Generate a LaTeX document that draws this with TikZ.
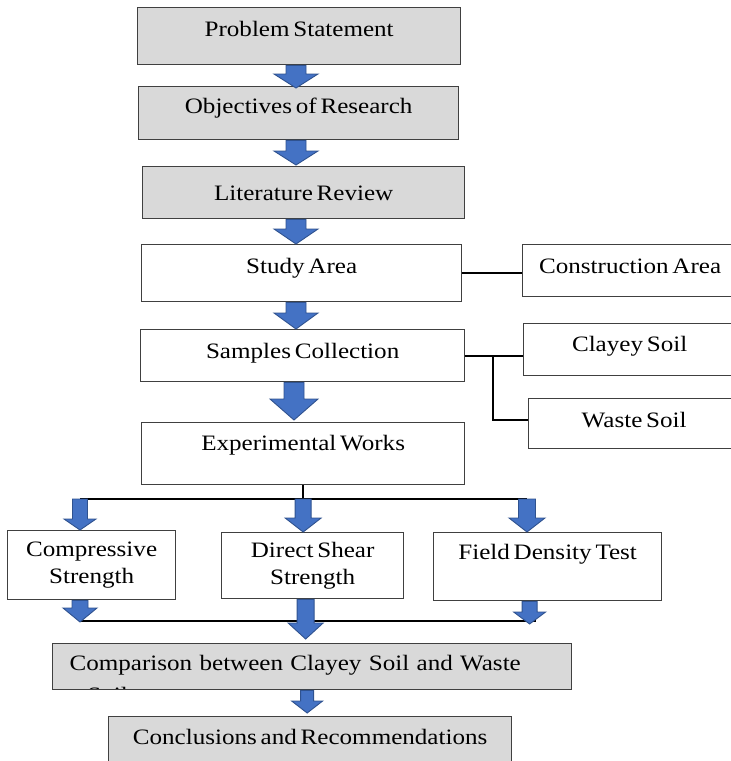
\documentclass[tikz,border=0pt]{standalone}
\usepackage{fontspec}
\setmainfont{Liberation Serif}[FakeStretch=1.14, WordSpace=0.6]
\usetikzlibrary{calc}

\definecolor{boxgray}{HTML}{D9D9D9}
\definecolor{boxline}{HTML}{404040}
\definecolor{flowfill}{HTML}{4472C4}
\definecolor{flowline}{HTML}{2F528F}

\tikzset{
  box/.style={draw=boxline, line width=1.3pt, inner sep=0pt, anchor=north west},
  shaded/.style={box, fill=boxgray},
  conn/.style={draw=black, line width=2pt},
  flow/.style={fill=flowfill, draw=flowline, line width=0.9pt, line join=miter}
}

% block arrow: start, end, shaft half width, head half width, head length
\newcommand{\flowarrow}[5]{%
  \filldraw[flow] let \p1=#1, \p2=#2 in
    (\x1-#3pt,\y1) -- (\x1-#3pt,\y2+#5pt) -- (\x1-#4pt,\y2+#5pt) -- (\x1,\y2)
    -- (\x1+#4pt,\y2+#5pt) -- (\x1+#3pt,\y2+#5pt) -- (\x1+#3pt,\y1) -- cycle;}

\begin{document}
\begin{tikzpicture}[x=1pt, y=-1pt, font=\fontsize{22pt}{27pt}\selectfont]
    \useasboundingbox (0,0) rectangle (731,761);

    % main column
    \node[shaded, minimum width=323pt, text height=29pt, text depth=28pt] (problem) at (137,7) {Problem Statement};
    \node[shaded, minimum width=320pt, text height=27pt, text depth=26pt] (objectives) at (138,86) {Objectives of Research};
    \node[shaded, minimum width=322pt, text height=34pt, text depth=18pt] (literature) at (142,166) {Literature Review};
    \node[box, minimum width=320pt, text height=29pt, text depth=28pt] (study) at (141,244) {Study Area};
    \node[box, minimum width=324pt, text height=29pt, text depth=23pt] (samples) at (140,329) {Samples Collection};
    \node[box, minimum width=323pt, text height=28pt, text depth=34pt] (exper) at (141,422) {Experimental Works};

    % side boxes
    \node[box, minimum width=215pt, text height=29pt, text depth=23pt] (construction) at (522,244) {Construction Area};
    \node[box, minimum width=212pt, text height=28pt, text depth=24pt] (clayey) at (523,323) {Clayey Soil};
    \node[box, minimum width=211pt, text height=29pt, text depth=21pt] (waste) at (528,398) {Waste Soil};

    % tests
    \node[box, minimum width=168pt, minimum height=69pt, align=center] (compress) at (7,530) {Compressive\\Strength};
    \node[box, minimum width=182pt, minimum height=66pt, align=center] (shear) at (221,532) {Direct Shear\\Strength};
    \node[box, minimum width=228pt, text height=27pt, text depth=41pt] (field) at (433,532) {Field Density Test};

    % results
    \node[shaded, minimum width=519pt, inner xsep=17pt, text width=485pt, align=left,
          text height=27pt, text depth=19pt,
          path picture={\node[anchor=base west, inner sep=0pt]
            at ([xshift=17pt, yshift=-59pt]path picture bounding box.north west) {Soil};}]
          (compare) at (52,643) {Comparison between Clayey Soil and Waste};
    \node[shaded, minimum width=403pt, text height=28pt, text depth=40pt] (conclusions) at (108,716) {Conclusions and Recommendations};

    % side connectors
    \draw[conn] (study.east) -- (study.east -| construction.west);
    \draw[conn] (samples.east) -- (samples.east -| clayey.west);
    \coordinate (split) at ([xshift=28pt]samples.east);
    \draw[conn] (split) |- ([yshift=4pt]waste.west);

    % bus lines
    \coordinate (busL) at (80,499);
    \coordinate (busR) at (527,499);
    \coordinate (lowL) at (80,621);
    \coordinate (lowR) at (536,621);
    \draw[conn] (exper.south) -- (exper.south |- busL);
    \draw[conn] (busL) -- (busR);
    \draw[conn] (lowL) -- (lowR);

    % block arrows down the main column
    \coordinate (spine) at (296,0);
    \flowarrow{(spine |- problem.south)}{([yshift=-2pt]spine |- objectives.north)}{10}{22}{14}
    \flowarrow{(spine |- objectives.south)}{([yshift=1pt]spine |- literature.north)}{10}{22}{14}
    \flowarrow{(spine |- literature.south)}{(spine |- study.north)}{10}{22}{15}
    \flowarrow{(spine |- study.south)}{(spine |- samples.north)}{10}{22}{16}
    \flowarrow{([xshift=-2pt]spine |- samples.south)}{([yshift=2pt]spine |- exper.north)}{10}{24}{21}

    % arrows to and from the tests
    \flowarrow{(busL)}{(busL |- compress.north)}{7.5}{16}{11}
    \flowarrow{(exper.south |- busL)}{(exper.south |- shear.north)}{8}{18}{14}
    \flowarrow{(busR)}{(busR |- field.north)}{8.5}{18}{14}
    \flowarrow{(lowL |- compress.south)}{([yshift=-1pt]lowL)}{8}{17}{14}
    \flowarrow{([xshift=-7pt]shear.south)}{([yshift=4pt]compare.north)}{8.5}{17.5}{16}
    \flowarrow{([xshift=-18pt]field.south)}{([yshift=-3pt]lowR)}{7.5}{16}{12}
    \flowarrow{([xshift=-5pt]compare.south)}{([yshift=3pt]conclusions.north)}{6.5}{15.5}{12}
\end{tikzpicture}
\end{document}
